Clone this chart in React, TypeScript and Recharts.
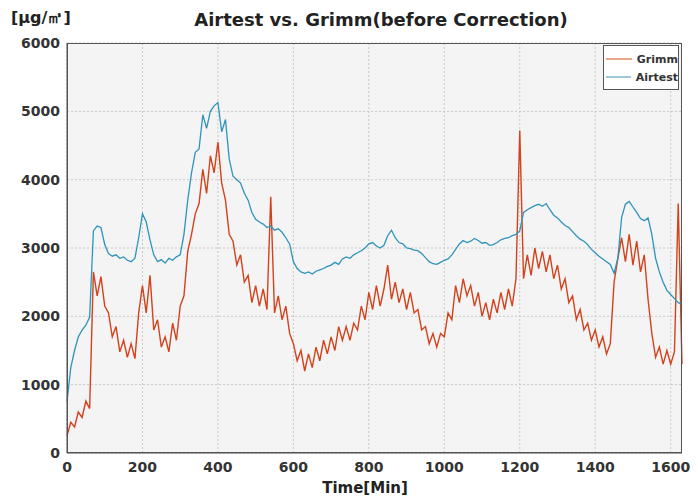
import { CartesianGrid, Line, LineChart, XAxis, YAxis } from 'recharts';

// time in minutes, one sample every 10 min
const minutes = [
  0, 10, 20, 30, 40, 50, 60, 70, 80, 90, 100, 110, 120, 130, 140, 150, 160, 170, 180, 190,
  200, 210, 220, 230, 240, 250, 260, 270, 280, 290, 300, 310, 320, 330, 340, 350, 360, 370, 380, 390,
  400, 410, 420, 430, 440, 450, 460, 470, 480, 490, 500, 510, 520, 530, 540, 550, 560, 570, 580, 590,
  600, 610, 620, 630, 640, 650, 660, 670, 680, 690, 700, 710, 720, 730, 740, 750, 760, 770, 780, 790,
  800, 810, 820, 830, 840, 850, 860, 870, 880, 890, 900, 910, 920, 930, 940, 950, 960, 970, 980, 990,
  1000, 1010, 1020, 1030, 1040, 1050, 1060, 1070, 1080, 1090, 1100, 1110, 1120, 1130, 1140, 1150, 1160, 1170, 1180, 1190,
  1200, 1210, 1220, 1230, 1240, 1250, 1260, 1270, 1280, 1290, 1300, 1310, 1320, 1330, 1340, 1350, 1360, 1370, 1380, 1390,
  1400, 1410, 1420, 1430, 1440, 1450, 1460, 1470, 1480, 1490, 1500, 1510, 1520, 1530, 1540, 1550, 1560, 1570, 1580, 1590,
  1600, 1610, 1620, 1630,
];

const grimm = [
  250, 450, 380, 600, 520, 760, 650, 2650, 2300, 2580, 2150, 2050, 1700, 1850, 1480, 1650, 1400, 1600, 1380, 2050,
  2450, 2050, 2600, 1800, 1950, 1550, 1700, 1480, 1900, 1650, 2150, 2300, 2950, 3200, 3500, 3650, 4150, 3800, 4350, 4100,
  4550, 3950, 3700, 3200, 3100, 2750, 2900, 2500, 2600, 2200, 2450, 2150, 2400, 2100, 3750, 2050, 2300, 1950, 2150, 1750,
  1600, 1350, 1500, 1200, 1450, 1250, 1550, 1350, 1650, 1450, 1700, 1500, 1850, 1650, 1850, 1650, 1900, 1800, 2150, 1950,
  2350, 2100, 2450, 2150, 2400, 2750, 2250, 2500, 2200, 2400, 2100, 2350, 2050, 2100, 1800, 1850, 1600, 1750, 1550, 1750,
  1700, 2050, 1950, 2450, 2200, 2550, 2300, 2450, 2150, 2350, 2000, 2200, 1950, 2250, 2050, 2350, 2100, 2400, 2150, 2550,
  4720, 2550, 2900, 2600, 3000, 2700, 2950, 2650, 2900, 2550, 2750, 2400, 2550, 2200, 2300, 1950, 2100, 1800, 1900, 1650,
  1800, 1550, 1700, 1450, 1600, 2500, 2850, 3150, 2800, 3200, 2750, 3100, 2650, 2900, 2250, 1750, 1400, 1550, 1300, 1500,
  1300, 1480, 3650, 1300,
];

const airtest = [
  750, 1250, 1500, 1700, 1800, 1870, 1990, 3250, 3320, 3300, 3050, 2920, 2880, 2900, 2850, 2870, 2820, 2800, 2850, 3150,
  3500, 3380, 3120, 2900, 2800, 2830, 2780, 2850, 2820, 2870, 2900, 3200, 3700, 4100, 4400, 4450, 4950, 4750, 5000, 5080,
  5130, 4700, 4880, 4300, 4050, 4000, 3950, 3800, 3700, 3520, 3420, 3380, 3350, 3300, 3320, 3260, 3280, 3230, 3150, 3060,
  2800, 2700, 2650, 2630, 2650, 2620, 2660, 2680, 2700, 2730, 2750, 2790, 2760, 2840, 2870, 2850, 2900, 2930, 2960, 3000,
  3060, 3080, 3030, 3000, 3040, 3180, 3260, 3150, 3080, 3060, 3000, 2990, 2970, 2960, 2920, 2860, 2800, 2770, 2760, 2790,
  2820, 2840, 2900, 2980, 3060, 3110, 3080, 3100, 3140, 3110, 3070, 3080, 3040, 3050, 3080, 3120, 3140, 3150, 3180, 3200,
  3250, 3520, 3560, 3590, 3620, 3640, 3610, 3650, 3560, 3480, 3440, 3380, 3330, 3300, 3240, 3180, 3130, 3100, 3050, 2980,
  2930, 2880, 2840, 2800, 2760, 2630, 2850, 3450, 3640, 3680, 3600, 3520, 3430, 3400, 3440, 3200, 2850, 2650, 2500, 2380,
  2320, 2260, 2200, 2180,
];

const xTicks = [0, 200, 400, 600, 800, 1000, 1200, 1400, 1600];
const yTicks = [0, 1000, 2000, 3000, 4000, 5000, 6000];

const data = minutes.map((t, i) => ({ t, grimm: grimm[i], airtest: airtest[i] }));

const FONT = "'DejaVu Sans', sans-serif";
const RED = '#d2421c';
const BLUE = '#2f93bb';

const tickStyle = {
  fill: '#333',
  fontSize: 14,
  fontWeight: 'bold',
  fontFamily: FONT,
};

const legendItems = [
  { name: 'Grimm', color: '#e8a888' },
  { name: 'Airtest', color: '#9cc8dc' },
];

export default function App() {
  return (
    <div
      style={{
        position: 'absolute',
        left: 0,
        top: 0,
        width: 698,
        height: 499,
        background: '#fff',
        fontFamily: FONT,
        color: '#222',
      }}
    >
      <div
        style={{
          position: 'absolute',
          left: 0,
          top: 9,
          width: 762,
          textAlign: 'center',
          fontWeight: 'bold',
          fontSize: 18,
        }}
      >
        Airtest vs. Grimm(before Correction)
      </div>
      <div style={{ position: 'absolute', left: 11, top: 8, fontWeight: 'bold', fontSize: 16 }}>
        [μg/㎥]
      </div>
      <LineChart
        width={698}
        height={499}
        data={data}
        margin={{ top: 43, right: 16, left: 0, bottom: 0 }}
      >
        <CartesianGrid
          stroke='#c8c8c8'
          strokeDasharray='2 2'
          fill='#f4f4f4'
          horizontalValues={yTicks}
          verticalValues={xTicks}
        />
        <XAxis
          dataKey='t'
          type='number'
          domain={[0, 1630]}
          ticks={xTicks}
          height={46}
          stroke='#555'
          tickLine={false}
          tick={tickStyle}
          tickMargin={3}
        />
        <YAxis
          domain={[0, 6000]}
          ticks={yTicks}
          width={67}
          stroke='#555'
          tickLine={false}
          tick={tickStyle}
          tickMargin={1}
        />
        <Line
          dataKey='grimm'
          name='Grimm'
          stroke={RED}
          strokeWidth={1.4}
          dot={false}
          isAnimationActive={false}
        />
        <Line
          dataKey='airtest'
          name='Airtest'
          stroke={BLUE}
          strokeWidth={1.3}
          dot={false}
          isAnimationActive={false}
        />
      </LineChart>
      {/* plot frame */}
      <div
        style={{
          position: 'absolute',
          left: 67,
          top: 43,
          width: 615,
          height: 410,
          border: '1.5px solid #555',
          boxSizing: 'border-box',
          pointerEvents: 'none',
        }}
      />
      <div
        style={{
          position: 'absolute',
          left: 603,
          top: 45,
          width: 76,
          height: 45,
          border: '1.5px solid #555',
          background: '#fff',
          boxSizing: 'border-box',
          padding: '4px 0 0 2px',
          fontWeight: 'bold',
          fontSize: 11,
          color: '#333',
        }}
      >
        {legendItems.map((it) => (
          <div key={it.name} style={{ display: 'flex', alignItems: 'center', height: 18 }}>
            <div style={{ width: 30, height: 1.5, background: it.color, marginRight: 5 }} />
            <span>{it.name}</span>
          </div>
        ))}
      </div>
      <div
        style={{
          position: 'absolute',
          left: 0,
          top: 479,
          width: 730,
          textAlign: 'center',
          fontWeight: 'bold',
          fontSize: 15,
        }}
      >
        Time[Min]
      </div>
    </div>
  );
}
